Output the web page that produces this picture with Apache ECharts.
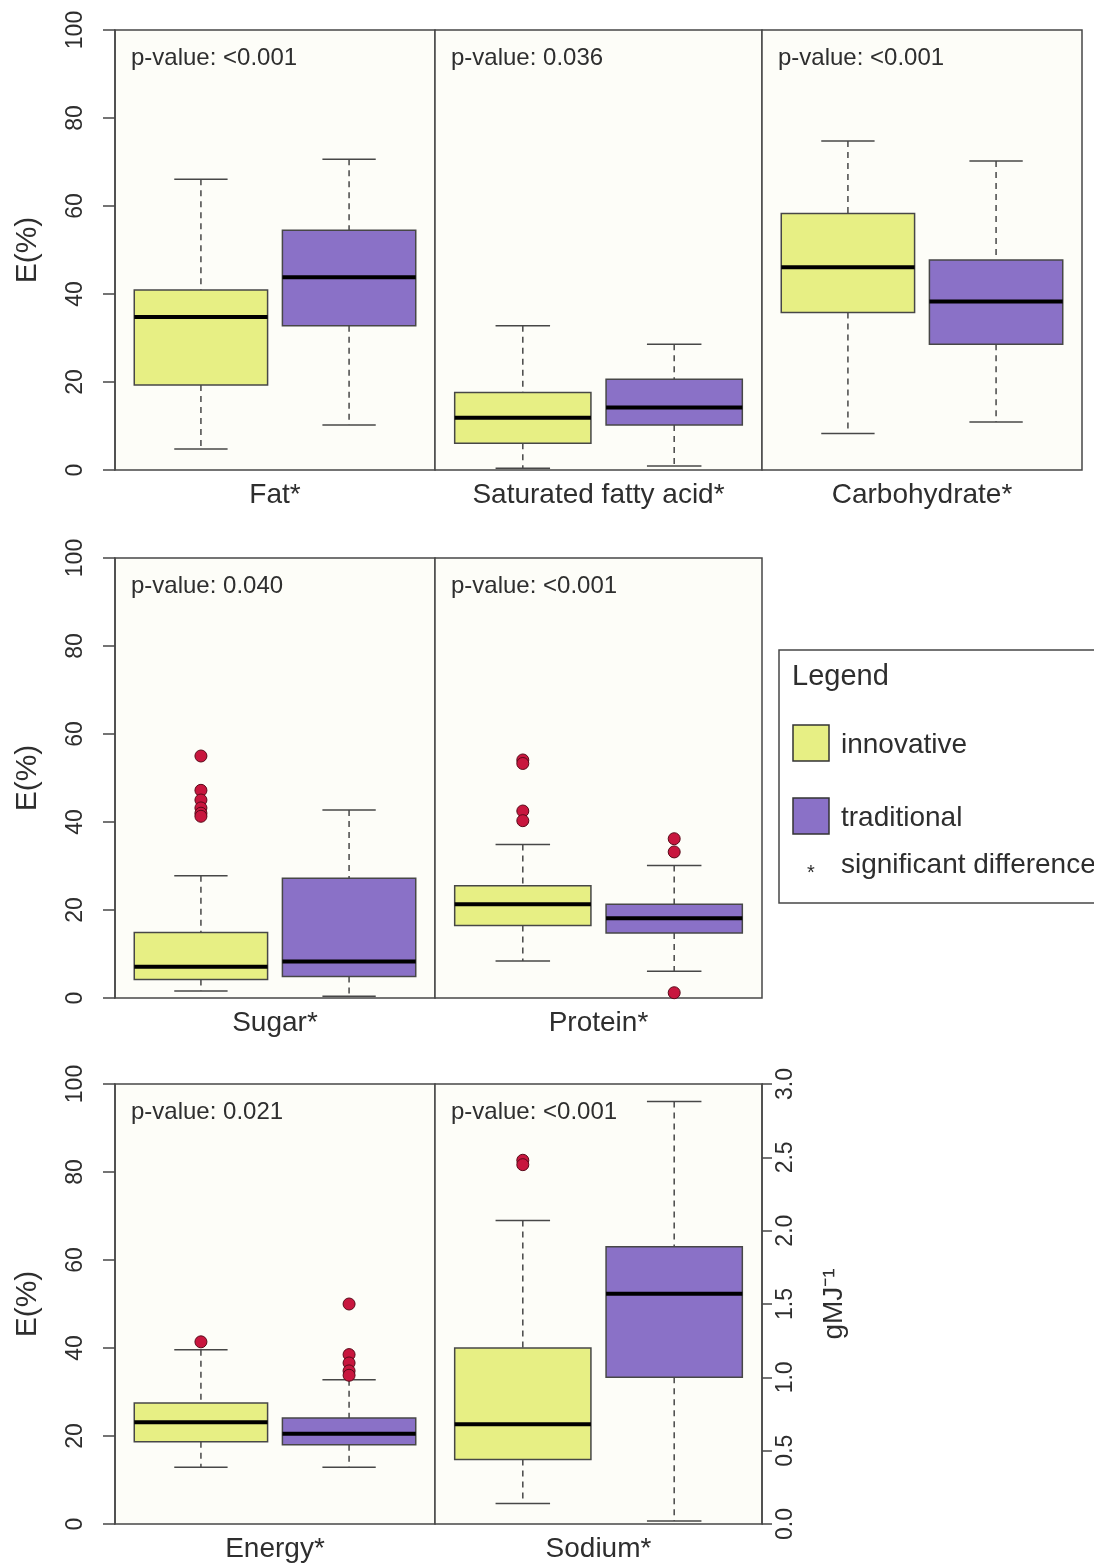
<!DOCTYPE html>
<html lang="en">
<head>
<meta charset="UTF-8">
<title>Energy share boxplots</title>
<script src="https://cdn.jsdelivr.net/npm/echarts@6.0.0/dist/echarts.min.js"></script>
<style>
  html, body { margin: 0; padding: 0; background: #fff; }
  #chart { width: 1094px; height: 1566px; }
</style>
</head>
<body>
<div id="chart"></div>
<script type="text/javascript">
// ---- data ----
var panelNames = ['Fat*', 'Saturated fatty acid*', 'Carbohydrate*', 'Sugar*', 'Protein*', 'Energy*', 'Sodium*'];
var pValues = ['<0.001', '0.036', '<0.001', '0.040', '<0.001', '0.021', '<0.001'];
var groupNames = ['innovative', 'traditional'];

// [lower whisker, Q1, median, Q3, upper whisker]
var innovativeStats = [
    [4.8, 19.3, 34.8, 40.9, 66.1],
    [0.4, 6.1, 11.9, 17.6, 32.8],
    [8.3, 35.8, 46.1, 58.3, 74.8],
    [1.6, 4.2, 7.1, 14.9, 27.8],
    [8.4, 16.5, 21.3, 25.5, 34.9],
    [12.9, 18.7, 23.1, 27.5, 39.6],
    [0.14, 0.44, 0.68, 1.20, 2.07]
];
var traditionalStats = [
    [10.2, 32.8, 43.8, 54.5, 70.6],
    [0.9, 10.2, 14.2, 20.6, 28.6],
    [10.9, 28.6, 38.3, 47.7, 70.2],
    [0.4, 4.9, 8.3, 27.2, 42.7],
    [6.1, 14.8, 18.1, 21.3, 30.1],
    [12.9, 18.0, 20.5, 24.1, 32.8],
    [0.02, 1.00, 1.57, 1.89, 2.88]
];
var innovativeOutliers = [
    [], [], [],
    [55.0, 47.2, 45.0, 43.2, 42.0, 41.3],
    [54.1, 53.3, 42.5, 40.3],
    [41.4],
    [2.48, 2.45]
];
var traditionalOutliers = [
    [], [], [],
    [],
    [36.2, 33.2, 1.2],
    [50.0, 38.5, 36.6, 34.8, 33.8],
    []
];
var energyTicks = [0, 100, 20];     // min, max, step
var sodiumTicks = [0, 3, 0.5];

// ---- look ----
var FONT = '"Liberation Sans", Arial, Helvetica, sans-serif';
var TEXT = '#2e2e2e';
var LINE = '#474747';
var PANEL_BG = '#fdfdf8';
var FILLS = ['#e7ef84', '#8a71c7'];
var BOX_WIDTH = 0.9;   // in x units, groups sit at 1 and 2

// panel layout: row, column
var panelCells = [[0, 0], [0, 1], [0, 2], [1, 0], [1, 1], [2, 0], [2, 1]];
var rowTops = [30, 558, 1084];
var rowHeight = 440;
var colLefts = [115, 435, 762];
var colWidths = [320, 327, 320];

function boxRenderer(fill) {
    return function (params, api) {
        var x = api.value(0);
        var low = api.coord([x, api.value(1)]);
        var q1 = api.coord([x, api.value(2)]);
        var med = api.coord([x, api.value(3)]);
        var q3 = api.coord([x, api.value(4)]);
        var high = api.coord([x, api.value(5)]);
        var half = api.size([BOX_WIDTH, 0])[0] / 2;
        var capHalf = half * 0.4;
        var cx = med[0];
        var dashed = { stroke: LINE, lineWidth: 1.5, lineDash: [6, 5] };
        var solid = { stroke: LINE, lineWidth: 1.5 };
        return {
            type: 'group',
            children: [
                { type: 'line', shape: { x1: cx, y1: high[1], x2: cx, y2: q3[1] }, style: dashed },
                { type: 'line', shape: { x1: cx, y1: q1[1], x2: cx, y2: low[1] }, style: dashed },
                { type: 'line', shape: { x1: cx - capHalf, y1: high[1], x2: cx + capHalf, y2: high[1] }, style: solid },
                { type: 'line', shape: { x1: cx - capHalf, y1: low[1], x2: cx + capHalf, y2: low[1] }, style: solid },
                { type: 'rect', shape: { x: cx - half, y: q3[1], width: half * 2, height: q1[1] - q3[1] },
                  style: { fill: fill, stroke: LINE, lineWidth: 1.5 } },
                { type: 'line', shape: { x1: cx - half, y1: med[1], x2: cx + half, y2: med[1] },
                  style: { stroke: '#000', lineWidth: 4 } }
            ]
        };
    };
}

var grids = [], xAxes = [], yAxes = [], series = [], graphics = [];

panelNames.forEach(function (name, i) {
    var row = panelCells[i][0], col = panelCells[i][1];
    var left = colLefts[col], top = rowTops[row], width = colWidths[col];
    var isSodium = name === 'Sodium*';

    grids.push({
        left: left, top: top, width: width, height: rowHeight,
        show: true, backgroundColor: PANEL_BG, borderColor: LINE, borderWidth: 1.5,
        outerBoundsMode: 'none'
    });

    xAxes.push({
        gridIndex: i, type: 'value', min: 0.42, max: 2.58,
        name: name, nameLocation: 'middle', nameGap: 11,
        nameTextStyle: { fontSize: 28, color: TEXT, fontFamily: FONT },
        axisLine: { show: false }, axisTick: { show: false },
        axisLabel: { show: false }, splitLine: { show: false }
    });

    if (isSodium) {
        yAxes.push({
            gridIndex: i, type: 'value', position: 'right',
            min: sodiumTicks[0], max: sodiumTicks[1], interval: sodiumTicks[2],
            name: 'gMJ\u207B\u00B9', nameLocation: 'middle', nameGap: 58, nameRotate: 90,
            nameTextStyle: { fontSize: 28, color: TEXT, fontFamily: FONT },
            axisLine: { show: true, lineStyle: { color: LINE, width: 1.5 } },
            axisTick: { show: true, length: 10, lineStyle: { color: LINE, width: 1.5 } },
            axisLabel: { rotate: 90, fontSize: 23, margin: 12, color: TEXT, fontFamily: FONT,
                formatter: function (v) { return v.toFixed(1); } },
            splitLine: { show: false }
        });
    } else if (col === 0) {
        yAxes.push({
            gridIndex: i, type: 'value', position: 'left',
            min: energyTicks[0], max: energyTicks[1], interval: energyTicks[2],
            name: 'E(%)', nameLocation: 'middle', nameGap: 72, nameRotate: 90,
            nameTextStyle: { fontSize: 30, color: TEXT, fontFamily: FONT },
            axisLine: { show: true, lineStyle: { color: LINE, width: 1.5 } },
            axisTick: { show: true, length: 12, lineStyle: { color: LINE, width: 1.5 } },
            axisLabel: { rotate: 90, fontSize: 23, margin: 28, color: TEXT, fontFamily: FONT },
            splitLine: { show: false }
        });
    } else {
        yAxes.push({
            gridIndex: i, type: 'value', show: false,
            min: energyTicks[0], max: energyTicks[1]
        });
    }

    [innovativeStats, traditionalStats].forEach(function (stats, g) {
        series.push({
            type: 'custom', name: groupNames[g], xAxisIndex: i, yAxisIndex: i,
            renderItem: boxRenderer(FILLS[g]), silent: true, z: 2,
            data: [[g + 1].concat(stats[i])]
        });
    });
    [innovativeOutliers, traditionalOutliers].forEach(function (outs, g) {
        if (!outs[i].length) return;
        series.push({
            type: 'scatter', xAxisIndex: i, yAxisIndex: i, silent: true, z: 3,
            symbol: 'circle', symbolSize: 12,
            itemStyle: { color: '#c8163e', borderColor: '#5a0a1a', borderWidth: 1, opacity: 1 },
            data: outs[i].map(function (v) { return [g + 1, v]; })
        });
    });

    graphics.push({
        type: 'text', x: left + 16, y: top + 28, silent: true,
        style: { text: 'p-value: ' + pValues[i], fontSize: 24, fontFamily: FONT, fill: TEXT,
                 align: 'left', verticalAlign: 'middle' }
    });
});

// legend box, right of the second row (its right edge runs off the page)
var lx = 779, ly = 650;
graphics.push({ type: 'rect', shape: { x: lx, y: ly, width: 400, height: 253 }, silent: true,
    style: { fill: '#fff', stroke: LINE, lineWidth: 1.5 } });
graphics.push({ type: 'text', x: lx + 13, y: ly + 27, silent: true,
    style: { text: 'Legend', fontSize: 29, fontFamily: FONT, fill: TEXT, verticalAlign: 'middle' } });
groupNames.forEach(function (g, k) {
    var cy = ly + 93 + k * 73;
    graphics.push({ type: 'rect', shape: { x: lx + 14, y: cy - 18, width: 36, height: 36 }, silent: true,
        style: { fill: FILLS[k], stroke: '#333', lineWidth: 1.5 } });
    graphics.push({ type: 'text', x: lx + 62, y: cy + 2, silent: true,
        style: { text: g, fontSize: 28, fontFamily: FONT, fill: TEXT, verticalAlign: 'middle' } });
});
graphics.push({ type: 'text', x: lx + 32, y: ly + 223, silent: true,
    style: { text: '*', fontSize: 20, fontFamily: FONT, fill: TEXT, align: 'center', verticalAlign: 'middle' } });
graphics.push({ type: 'text', x: lx + 62, y: ly + 215, silent: true,
    style: { text: 'significant difference', fontSize: 28, fontFamily: FONT, fill: TEXT, verticalAlign: 'middle' } });

var myChart = echarts.init(document.getElementById('chart'), null, { renderer: 'canvas' });
myChart.setOption({
    backgroundColor: '#ffffff',
    animation: false,
    textStyle: { fontFamily: FONT },
    grid: grids,
    xAxis: xAxes,
    yAxis: yAxes,
    series: series,
    graphic: graphics
});
</script>
</body>
</html>
